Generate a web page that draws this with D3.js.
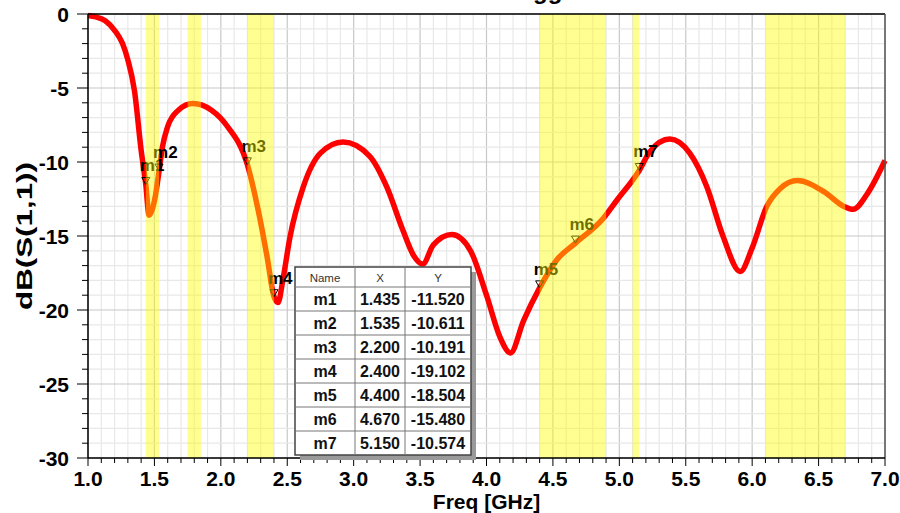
<!DOCTYPE html>
<html><head><meta charset="utf-8">
<script src="https://cdn.jsdelivr.net/npm/d3@7"></script>
<style>
body{margin:0;background:#fff;}
text{font-family:"Liberation Sans",Arial,sans-serif;}
</style></head>
<body><svg id="c" width="900" height="513"></svg>
<script>
const freq = [1.0,1.06,1.13,1.2,1.26,1.30,1.35,1.40,1.435,1.46,1.48,1.505,1.535,1.56,1.60,1.68,1.79,1.93,2.05,2.2,2.28,2.35,2.4,2.43,2.47,2.52,2.62,2.75,2.92,3.12,3.25,3.37,3.45,3.52,3.60,3.74,3.88,4.0,4.1,4.18,4.28,4.4,4.53,4.67,4.88,4.98,5.15,5.23,5.38,5.53,5.66,5.78,5.91,6.0,6.11,6.21,6.34,6.54,6.69,6.76,6.87,7.0];
const s11 = [-0.1,-0.2,-0.45,-1.1,-2.0,-3.1,-5.2,-9.2,-11.52,-13.6,-13.3,-12.4,-10.611,-9.0,-7.6,-6.5,-6.05,-6.5,-7.6,-10.191,-13.2,-16.5,-19.102,-19.5,-17.8,-15.1,-11.7,-9.4,-8.65,-9.6,-11.7,-14.6,-16.3,-16.9,-15.6,-14.9,-16.0,-19.0,-21.8,-22.9,-20.7,-18.504,-16.6,-15.48,-13.8,-12.6,-10.574,-9.3,-8.45,-9.4,-11.7,-15.0,-17.4,-15.8,-13.0,-11.8,-11.25,-12.0,-13.0,-13.2,-12.1,-9.9];
const markerNames = ["m1","m2","m3","m4","m5","m6","m7"];
const markerX = [1.435,1.535,2.200,2.400,4.400,4.670,5.150];
const markerY = [-11.520,-10.611,-10.191,-19.102,-18.504,-15.480,-10.574];
const bandStart = [1.435,1.75,2.2,4.4,5.1,6.1];
const bandEnd   = [1.535,1.85,2.4,4.9,5.15,6.7];
const xTicks = [1.0,1.5,2.0,2.5,3.0,3.5,4.0,4.5,5.0,5.5,6.0,6.5,7.0];
const yTicks = [0,-5,-10,-15,-20,-25,-30];

const svg = d3.select("#c");
const L=88,R=885,T=14,B=458;
const x = d3.scaleLinear().domain([1,7]).range([L,R]);
const y = d3.scaleLinear().domain([-30,0]).range([B,T]);

// title fragment (cut off at top in the reference)
svg.append("text").attr("x",533).attr("y",-1).attr("font-size",24).attr("font-weight","bold").text("gg");

const g = svg.append("g");
const isMajorX = d=>Math.abs(d*2-Math.round(d*2))<1e-6;
const minorX = d3.range(10,71).map(d=>d/10);
const minorY = d3.range(-30,1);
g.selectAll(".vx").data(minorX).enter().append("line")
 .attr("x1",d=>x(d)).attr("x2",d=>x(d)).attr("y1",T).attr("y2",B)
 .attr("stroke",d=>isMajorX(d)?"#c8c8c8":"#e8e8e8").attr("stroke-width",1.2);
g.selectAll(".hy").data(minorY).enter().append("line")
 .attr("y1",d=>y(d)).attr("y2",d=>y(d)).attr("x1",L).attr("x2",R)
 .attr("stroke",d=>d%5===0?"#c8c8c8":"#e8e8e8").attr("stroke-width",1.2);

// curve
const pts = freq.map((f,i)=>[f,s11[i]]);
const line = d3.line().x(d=>x(d[0])).y(d=>y(d[1])).curve(d3.curveMonotoneX);
g.append("path").attr("d",line(pts)).attr("fill","none").attr("stroke","#ff0000").attr("stroke-width",5.5).attr("stroke-linejoin","round");

// markers
markerNames.forEach((n,i)=>{
  const px=x(markerX[i]), py=y(markerY[i]);
  g.append("path").attr("d",`M${px-4},${py-7}L${px+4},${py-7}L${px},${py}Z`).attr("fill","none").attr("stroke","#000").attr("stroke-width",1);
  g.append("text").attr("x",px-6).attr("y",py-13).attr("font-size",17).attr("font-weight","bold").attr("fill","#000").text(n);
});

// yellow bands overlay
g.selectAll(".band").data(bandStart).enter().append("rect")
 .attr("x",(d,i)=>x(d)).attr("width",(d,i)=>x(bandEnd[i])-x(d)).attr("y",T).attr("height",B-T)
 .attr("fill","#ffff00").attr("opacity",0.43);

// frame
svg.append("line").attr("x1",L).attr("x2",R).attr("y1",T).attr("y2",T).attr("stroke","#000").attr("stroke-width",1.5);
svg.append("line").attr("x1",R).attr("x2",R).attr("y1",T).attr("y2",B).attr("stroke","#555").attr("stroke-width",1.5);

// y axis
const yAxis = svg.append("g");
yAxis.append("line").attr("x1",L).attr("x2",L).attr("y1",T).attr("y2",B).attr("stroke","#000").attr("stroke-width",1.5);
yAxis.selectAll(".t").data(minorY).enter().append("line")
 .attr("x1",d=>L-(d%5===0?11:6)).attr("x2",L).attr("y1",d=>y(d)).attr("y2",d=>y(d)).attr("stroke","#000");
yAxis.selectAll(".l").data(yTicks).enter().append("text")
 .attr("x",69).attr("y",d=>y(d)).attr("dy","0.37em").attr("text-anchor","end")
 .attr("font-size",21).attr("font-weight","bold").text(d=>d);

// x axis
const xAxis = svg.append("g");
xAxis.append("line").attr("x1",L).attr("x2",R).attr("y1",B).attr("y2",B).attr("stroke","#000").attr("stroke-width",1.5);
xAxis.selectAll(".t").data(minorX).enter().append("line")
 .attr("x1",d=>x(d)).attr("x2",d=>x(d)).attr("y1",B).attr("y2",d=>B+(isMajorX(d)?8:5)).attr("stroke","#000");
xAxis.selectAll(".l").data(xTicks).enter().append("text")
 .attr("x",d=>x(d)).attr("y",486).attr("text-anchor","middle")
 .attr("font-size",21).attr("font-weight","bold").text(d=>d.toFixed(1));
svg.append("text").attr("x",(L+R)/2).attr("y",509).attr("text-anchor","middle").attr("font-size",21).attr("font-weight","bold").text("Freq [GHz]");
svg.append("text").attr("transform","translate(32,236) rotate(-90)").attr("text-anchor","middle")
 .attr("font-size",22).attr("font-weight","bold").attr("textLength",148).attr("lengthAdjust","spacingAndGlyphs").text("dB(S(1,1))");

// marker table
const tx=295, ty=267, colW=[60,50,66], hH=20, rH=24;
const tW=colW[0]+colW[1]+colW[2], tH=hH+rH*markerNames.length;
const tb = svg.append("g");
tb.append("rect").attr("x",tx+5).attr("y",ty+5).attr("width",tW).attr("height",tH).attr("fill","#9a9a9a");
tb.append("rect").attr("x",tx).attr("y",ty).attr("width",tW).attr("height",tH).attr("fill","#fff").attr("stroke","#444").attr("stroke-width",1.5);
const cx=[tx+colW[0]/2, tx+colW[0]+colW[1]/2, tx+colW[0]+colW[1]+colW[2]/2];
[tx+colW[0], tx+colW[0]+colW[1]].forEach(v=>tb.append("line").attr("x1",v).attr("x2",v).attr("y1",ty).attr("y2",ty+tH).attr("stroke","#777"));
d3.range(markerNames.length).forEach(i=>tb.append("line").attr("x1",tx).attr("x2",tx+tW).attr("y1",ty+hH+rH*i).attr("y2",ty+hH+rH*i).attr("stroke","#777"));
["Name","X","Y"].forEach((h,j)=>tb.append("text").attr("x",cx[j]).attr("y",ty+14.5).attr("text-anchor","middle").attr("font-size",11.5).attr("fill","#333").text(h));
markerNames.forEach((n,i)=>{
  const yy=ty+hH+rH*i+18;
  [n, markerX[i].toFixed(3), markerY[i].toFixed(3)].forEach((v,j)=>tb.append("text").attr("x",cx[j]).attr("y",yy).attr("text-anchor","middle").attr("font-size",16).attr("font-weight","bold").attr("fill","#111").text(v));
});
</script></body></html>
